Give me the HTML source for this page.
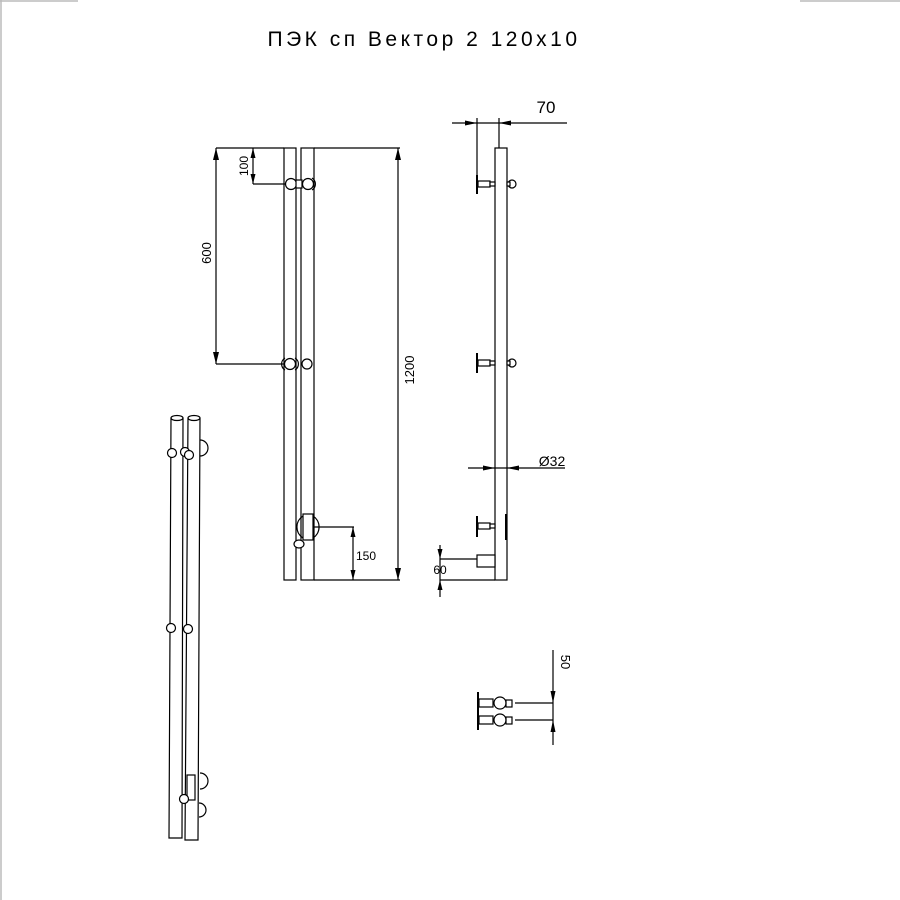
<!DOCTYPE html>
<html><head><meta charset="utf-8"><style>
html,body{margin:0;padding:0;background:#fff}
svg{display:block}
text{font-family:"Liberation Sans",sans-serif;fill:#000}
</style></head><body>
<svg width="900" height="900" viewBox="0 0 900 900" xmlns="http://www.w3.org/2000/svg">
<g stroke="#bbb" stroke-width="1.5"><line x1="0" y1="1" x2="78" y2="1"/><line x1="1" y1="0" x2="1" y2="900"/><line x1="800" y1="1" x2="900" y2="1"/></g>
<text x="424" y="46" font-size="21" text-anchor="middle" font-weight="300" style="letter-spacing:3.5px">ПЭК сп Вектор 2 120х10</text>
<g fill="none" stroke="#000" stroke-width="1.2">
<rect x="284" y="148" width="12" height="432"/>
<rect x="301" y="148" width="13" height="432"/>
<line x1="314" y1="148" x2="400" y2="148"/><line x1="314" y1="580" x2="400" y2="580"/>
<line x1="398" y1="148" x2="398" y2="580"/>
<line x1="216" y1="148" x2="284" y2="148"/><line x1="216" y1="148" x2="216" y2="364"/>
<line x1="216" y1="364" x2="284" y2="364"/>
<line x1="253" y1="148" x2="253" y2="184"/><line x1="253" y1="184" x2="288" y2="184"/>
<circle cx="291" cy="184" r="5.5" fill="#fff"/><circle cx="308" cy="184" r="5.5" fill="#fff"/>
<rect x="296" y="180" width="6" height="8" fill="#fff"/>
<circle cx="290" cy="364" r="5.5" fill="#fff"/><circle cx="307" cy="364" r="5" fill="#fff"/>
<path d="M285 358 a7 7 0 0 0 0 12"/><path d="M295 358 a7 7 0 0 1 0 12"/><path d="M312 178 a7 7 0 0 1 0 12"/>
<path d="M303 516 a13 13 0 0 0 0 22"/><path d="M313 516 a13 13 0 0 1 0 22"/>
<rect x="303" y="514" width="10" height="26" fill="#fff"/>
<ellipse cx="299" cy="544" rx="5" ry="4" fill="#fff"/>
<line x1="313" y1="527" x2="354" y2="527"/><line x1="353" y1="527" x2="353" y2="580"/>
<rect x="495" y="148" width="12" height="432"/>
<line x1="452" y1="123" x2="567" y2="123"/>
<line x1="477" y1="118" x2="477" y2="194"/><line x1="499" y1="118" x2="499" y2="148"/>
<line x1="468" y1="468" x2="565" y2="468"/>
<line x1="440" y1="545" x2="440" y2="597"/><line x1="440" y1="559" x2="477" y2="559"/><line x1="440" y1="580" x2="495" y2="580"/>
<rect x="477" y="555" width="18" height="12" fill="#fff"/>
<line x1="506" y1="514" x2="506" y2="540" stroke-width="2"/>
<line x1="515" y1="703" x2="553" y2="703"/><line x1="515" y1="720" x2="553" y2="720"/>
<line x1="553" y1="650" x2="553" y2="745"/>
<line x1="478" y1="692" x2="478" y2="730" stroke-width="2"/>
<rect x="479" y="699" width="14" height="8"/><rect x="479" y="716" width="14" height="8"/>
<circle cx="500" cy="703" r="6" fill="#fff"/><circle cx="500" cy="720" r="6" fill="#fff"/>
<rect x="506" y="700" width="6" height="7"/><rect x="506" y="717" width="6" height="7"/>
<path d="M171 418 L169 838 L182 838 L183 418"/><ellipse cx="177" cy="418" rx="6" ry="2.5"/>
<path d="M188 418 L185 840 L198 840 L200 418"/><ellipse cx="194" cy="418" rx="6" ry="2.5"/>
<path d="M200 440 a8 8 0 0 1 0 16"/><path d="M200 773 a8 8 0 0 1 0 16"/><path d="M199 803 a7 7 0 0 1 0 14"/>
<circle cx="172" cy="453" r="4.5" fill="#fff"/><circle cx="185" cy="452" r="4.5" fill="#fff"/><circle cx="189" cy="455" r="4.5" fill="#fff"/>
<circle cx="171" cy="628" r="4.5" fill="#fff"/><circle cx="188" cy="629" r="4.5" fill="#fff"/>
<rect x="187" y="775" width="8" height="25" fill="#fff"/>
<circle cx="184" cy="799" r="4.5" fill="#fff"/>
</g>
<g stroke="#000" stroke-width="1.2" fill="#fff">
<g><line x1="477" y1="175" x2="477" y2="194" stroke-width="2"/><rect x="478" y="181" width="12" height="6"/><rect x="490" y="182" width="5" height="4"/><circle cx="512" cy="184" r="4"/><rect x="507" y="182" width="3" height="4"/></g>
<g><line x1="477" y1="353" x2="477" y2="373" stroke-width="2"/><rect x="478" y="360" width="12" height="6"/><rect x="490" y="361" width="5" height="4"/><circle cx="512" cy="363" r="4"/><rect x="507" y="361" width="3" height="4"/></g>
<g><line x1="477" y1="516" x2="477" y2="537" stroke-width="2"/><rect x="478" y="523" width="12" height="6"/><rect x="490" y="524" width="5" height="4"/></g>
</g>
<g fill="#000" stroke="none">
<path d="M398 148 l-3 12 h6z"/><path d="M398 580 l-3 -12 h6z"/>
<path d="M216 148 l-3 12 h6z"/><path d="M216 364 l-3 -12 h6z"/>
<path d="M253 148 l-2.5 10 h5z"/><path d="M253 184 l-2.5 -10 h5z"/>
<path d="M353 527 l-2.5 10 h5z"/><path d="M353 580 l-2.5 -10 h5z"/>
<path d="M477 123 l-12 -2.5 v5z"/><path d="M499 123 l12 -2.5 v5z"/>
<path d="M495 468 l-12 -2.5 v5z"/><path d="M507 468 l12 -2.5 v5z"/>
<path d="M440 559 l-2.5 -10 h5z"/><path d="M440 580 l-2.5 10 h5z"/>
<path d="M553 703 l-2.5 -12 h5z"/><path d="M553 720 l-2.5 12 h5z"/>
</g>
<g font-size="13">
<text x="546" y="113" font-size="17" text-anchor="middle">70</text>
<text x="552" y="466" font-size="14" text-anchor="middle">Ø32</text>
<text x="366" y="560" font-size="12" text-anchor="middle">150</text>
<text x="440" y="574" font-size="12" text-anchor="middle">60</text>
<text transform="translate(414,370) rotate(-90)" text-anchor="middle">1200</text>
<text transform="translate(211,253) rotate(-90)" text-anchor="middle">600</text>
<text transform="translate(248,166) rotate(-90)" text-anchor="middle" font-size="12">100</text>
<text transform="translate(561,662) rotate(90)" text-anchor="middle">50</text>
</g>
</svg>
</body></html>
